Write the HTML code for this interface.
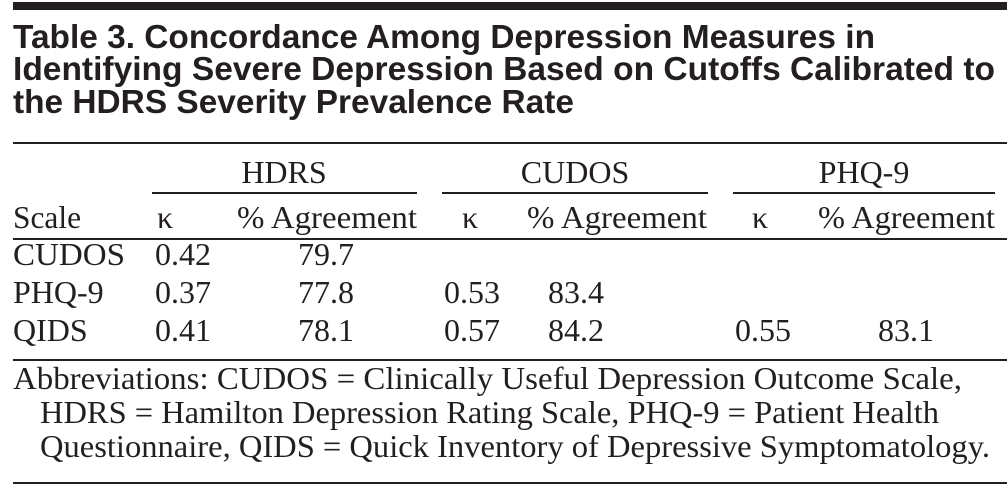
<!DOCTYPE html>
<html><head><style>
html,body{margin:0;padding:0;background:#fff;}
svg{display:block;}
svg text.t{font-family:"Liberation Sans",sans-serif;font-weight:bold;font-size:33px;fill:#231f20;}
svg text.s{font-family:"Liberation Serif",serif;font-size:32px;fill:#231f20;}
</style></head><body>
<svg width="1007" height="488" viewBox="0 0 1007 488" xmlns="http://www.w3.org/2000/svg">
<rect x="13" y="2" width="994" height="8" fill="#231f20"/>
<text class="t" x="13" y="48" textLength="862" lengthAdjust="spacingAndGlyphs">Table 3. Concordance Among Depression Measures in</text>
<text class="t" x="13" y="80" textLength="982" lengthAdjust="spacingAndGlyphs">Identifying Severe Depression Based on Cutoffs Calibrated to</text>
<text class="t" x="13" y="113" textLength="561" lengthAdjust="spacingAndGlyphs">the HDRS Severity Prevalence Rate</text>
<rect x="13" y="142" width="994" height="2" fill="#231f20"/>
<text class="s" x="284" y="183" text-anchor="middle">HDRS</text>
<text class="s" x="575" y="183" text-anchor="middle">CUDOS</text>
<text class="s" x="864" y="183" text-anchor="middle">PHQ-9</text>
<rect x="152" y="192" width="265" height="2" fill="#231f20"/>
<rect x="442" y="192" width="266" height="2" fill="#231f20"/>
<rect x="733" y="192" width="262" height="2" fill="#231f20"/>
<text class="s" x="13" y="228" textLength="68" lengthAdjust="spacingAndGlyphs">Scale</text>
<text class="s" x="165" y="228" text-anchor="middle">κ</text>
<text class="s" x="237" y="228" textLength="180" lengthAdjust="spacingAndGlyphs">% Agreement</text>
<text class="s" x="470" y="228" text-anchor="middle">κ</text>
<text class="s" x="527" y="228" textLength="180" lengthAdjust="spacingAndGlyphs">% Agreement</text>
<text class="s" x="760" y="228" text-anchor="middle">κ</text>
<text class="s" x="818" y="228" textLength="177" lengthAdjust="spacingAndGlyphs">% Agreement</text>
<rect x="13" y="238" width="994" height="2" fill="#231f20"/>
<text class="s" x="13" y="265" textLength="112" lengthAdjust="spacingAndGlyphs">CUDOS</text><text class="s" x="155" y="265">0.42</text><text class="s" x="298" y="265">79.7</text>
<text class="s" x="13" y="303">PHQ-9</text><text class="s" x="155" y="303">0.37</text><text class="s" x="298" y="303">77.8</text><text class="s" x="444" y="303">0.53</text><text class="s" x="548" y="303">83.4</text>
<text class="s" x="13" y="341">QIDS</text><text class="s" x="155" y="341">0.41</text><text class="s" x="298" y="341">78.1</text><text class="s" x="444" y="341">0.57</text><text class="s" x="548" y="341">84.2</text><text class="s" x="735" y="341">0.55</text><text class="s" x="878" y="341">83.1</text>
<rect x="13" y="359" width="994" height="2" fill="#231f20"/>
<text class="s" x="13" y="389" textLength="949" lengthAdjust="spacingAndGlyphs">Abbreviations: CUDOS = Clinically Useful Depression Outcome Scale,</text>
<text class="s" x="40" y="423" textLength="899" lengthAdjust="spacingAndGlyphs">HDRS = Hamilton Depression Rating Scale, PHQ-9 = Patient Health</text>
<text class="s" x="40" y="457" textLength="950" lengthAdjust="spacingAndGlyphs">Questionnaire, QIDS = Quick Inventory of Depressive Symptomatology.</text>
<rect x="13" y="482" width="994" height="2" fill="#231f20"/>
</svg>
</body></html>
